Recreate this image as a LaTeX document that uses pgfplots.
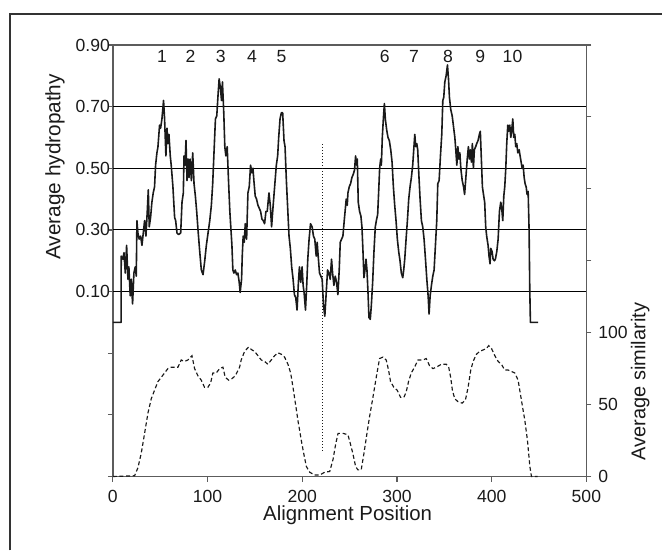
\documentclass[border=0pt]{standalone}
\usepackage{pgfplots}
\usepackage{pgfplotstable}
\pgfplotsset{compat=1.18}
\usepackage{fontspec}
\setmainfont{Liberation Sans}
\definecolor{axisgray}{HTML}{5C5C5C}
\definecolor{ink}{HTML}{1A1A1A}
\tikzset{
  peak/.style={font=\fontsize{8.8}{10}\selectfont, text=ink},
  axlabel/.style={text=ink, inner sep=0pt},
}

% average hydropathy along the alignment
\pgfplotstableread{
x h
0 0
8.7 0
8.8 0.215
10.6 0.205
11.7 0.226
13.1 0.16
14.5 0.25
15.9 0.14
16.9 0.18
18.3 0.086
19.4 0.14
20.8 0.06
22.2 0.16
23.6 0.18
24.7 0.15
25.4 0.33
26.4 0.29
27.8 0.27
29.3 0.28
30.7 0.25
32.1 0.29
33.5 0.33
34.9 0.28
36.3 0.36
37.4 0.43
38.4 0.31
39.8 0.34
41.2 0.39
42.6 0.42
44.0 0.44
45.1 0.51
46.5 0.55
47.6 0.57
49.3 0.64
50.4 0.63
51.8 0.66
53.5 0.72
54.6 0.66
56.0 0.54
57.1 0.63
58.1 0.58
59.2 0.61
60.6 0.54
61.6 0.51
63.4 0.44
65.2 0.34
66.3 0.33
67.7 0.29
69.5 0.285
71.6 0.29
73.0 0.39
74.4 0.42
75.1 0.54
76.2 0.51
77.2 0.59
78.3 0.46
79.4 0.53
80.4 0.47
81.5 0.53
82.9 0.46
84.3 0.55
85.7 0.45
87.1 0.41
88.5 0.36
89.9 0.30
91.7 0.23
93.4 0.17
95.2 0.155
97.0 0.20
98.7 0.25
100.5 0.29
102.3 0.33
104.0 0.38
105.4 0.45
106.9 0.56
108.3 0.66
109.7 0.67
111.1 0.74
112.2 0.79
113.6 0.76
114.7 0.72
115.7 0.78
117.1 0.68
118.2 0.57
119.3 0.54
120.7 0.57
122.1 0.46
123.5 0.36
125.7 0.25
126.7 0.17
127.8 0.16
129.2 0.17
130.6 0.155
132.0 0.16
133.4 0.13
134.4 0.097
135.9 0.14
136.6 0.215
137.6 0.28
138.7 0.26
139.8 0.32
141.2 0.27
142.6 0.42
144.0 0.44
145.4 0.51
146.8 0.485
147.9 0.50
148.9 0.46
150.3 0.41
151.7 0.40
153.2 0.38
154.6 0.37
156.0 0.36
157.4 0.335
158.8 0.33
160.2 0.32
161.6 0.36
163.0 0.36
164.8 0.42
166.2 0.38
167.6 0.31
169.0 0.37
170.8 0.44
172.6 0.51
174.0 0.54
175.1 0.60
176.5 0.66
177.9 0.68
179.3 0.68
180.7 0.59
181.8 0.57
183.2 0.46
184.6 0.37
186.0 0.28
187.4 0.24
188.8 0.18
190.3 0.14
191.7 0.09
193.1 0.08
194.5 0.04
195.9 0.13
197.0 0.18
198.4 0.13
199.8 0.18
200.9 0.12
201.9 0.097
203.4 0.04
204.8 0.13
205.8 0.205
207.2 0.27
208.7 0.32
210.4 0.31
211.8 0.28
213.2 0.27
214.7 0.215
215.7 0.26
216.8 0.215
218.2 0.16
219.6 0.15
221.0 0.14
222.4 0.055
223.8 0.02
225.3 0.097
226.7 0.17
228.1 0.16
229.5 0.14
230.9 0.205
232.0 0.16
233.4 0.12
234.8 0.15
236.2 0.13
237.6 0.09
239.0 0.17
240.1 0.26
241.5 0.27
242.9 0.28
244.3 0.33
246.4 0.40
247.5 0.38
248.2 0.42
249.6 0.44
251.0 0.45
252.4 0.47
253.8 0.48
255.2 0.495
256.3 0.54
257.4 0.51
258.1 0.53
259.1 0.39
260.5 0.36
261.9 0.345
263.0 0.31
264.1 0.23
265.1 0.145
266.2 0.17
267.3 0.205
268.3 0.17
269.4 0.097
270.4 0.016
271.8 0.01
272.9 0.054
274.3 0.13
275.7 0.23
277.1 0.31
278.2 0.33
279.6 0.35
280.6 0.42
281.7 0.50
282.8 0.53
283.5 0.51
284.5 0.60
285.6 0.66
286.7 0.71
287.7 0.66
289.1 0.625
290.5 0.60
291.9 0.59
293.4 0.56
294.8 0.52
296.2 0.44
297.6 0.38
299.0 0.33
300.4 0.27
301.8 0.23
303.2 0.20
304.6 0.16
306.1 0.145
307.1 0.17
308.2 0.205
309.6 0.27
311.0 0.33
312.4 0.40
313.8 0.44
315.2 0.47
316.6 0.51
317.7 0.56
318.8 0.61
319.8 0.57
320.9 0.58
321.9 0.56
323.0 0.485
324.4 0.40
325.8 0.33
327.2 0.31
328.6 0.27
330.1 0.205
331.5 0.14
332.9 0.086
333.9 0.027
335.0 0.086
336.4 0.12
337.8 0.15
339.2 0.17
340.6 0.25
342.0 0.33
343.1 0.45
344.5 0.46
345.9 0.54
347.3 0.61
348.4 0.72
349.4 0.73
350.5 0.78
351.9 0.80
353.3 0.835
354.4 0.79
355.4 0.73
356.8 0.69
358.3 0.67
359.7 0.635
361.1 0.60
362.1 0.56
363.2 0.51
364.3 0.57
365.3 0.53
366.4 0.55
367.4 0.50
368.9 0.46
370.3 0.44
371.4 0.415
373.1 0.485
374.2 0.53
375.4 0.57
376.5 0.53
377.5 0.56
378.6 0.52
379.6 0.58
380.7 0.50
381.7 0.56
383.1 0.57
384.2 0.58
385.6 0.59
387.0 0.61
388.0 0.62
389.1 0.53
390.2 0.44
391.6 0.41
392.6 0.39
393.7 0.31
394.7 0.28
396.2 0.25
397.2 0.215
398.3 0.19
399.0 0.24
400.4 0.23
401.5 0.205
402.9 0.20
403.9 0.205
405.4 0.23
406.8 0.27
408.2 0.36
409.6 0.39
410.6 0.37
411.7 0.33
412.8 0.41
413.8 0.44
414.9 0.50
415.9 0.58
417.0 0.64
418.0 0.62
419.1 0.64
420.2 0.60
421.2 0.625
422.3 0.66
423.3 0.60
424.4 0.61
425.4 0.57
426.5 0.58
427.6 0.55
429.0 0.56
430.0 0.54
431.1 0.52
432.2 0.50
433.2 0.51
434.3 0.47
435.3 0.45
436.4 0.44
437.4 0.415
438.5 0.425
439.5 0.30
440.2 0.11
440.9 0
449 0
}\hydro

% average similarity along the alignment
\pgfplotstableread{
x s
0 0
22.9 0.5
26.4 6
29.9 16
33.5 30
37.0 44
40.5 54
44.0 60
47.6 66
51.1 69
54.6 72
58.1 75
61.6 76
65.2 76
68.7 76
72.2 81
75.7 80
79.2 81
83.5 84
86.3 75
89.8 70
93.3 67
96.8 62
100.3 62
103.2 65
105.6 72
109.2 72
112.7 75
116.2 76
118.6 69
122.2 67
125.7 68
129.2 70
133.8 76
135.5 81
139.1 87
143.3 90
146.8 88
149.6 87
153.2 84
156.7 81
160.2 80
163.7 78
167.2 81
170.8 84
174.3 86
177.8 85
181.3 83
184.9 78
187.7 72
190.2 62
192.7 51
195.4 39
199.0 25
201.8 15
204.3 7
207.8 3
213.1 1
218.4 1
223.7 3
229.0 3.5
232.5 12
235.4 23
237.8 30
243.1 30
248.2 29
250.7 23
253.4 16
256.3 7
258.7 4.6
262.2 4.6
265.1 16
268.3 30
271.0 41.5
274.6 55
278.1 69
281.6 82
285.1 83
288.6 81
291.1 74
293.2 66
296.7 62
300.2 60
303.8 55
307.3 55
309.8 59
312.2 66
315.1 72
318.6 76
322.1 81
327.4 81
330.9 82
334.4 77
338.0 75
341.5 76
346.8 78
352.1 78
354.6 76
356.7 69
358.5 60
361.0 54
364.5 52
368.7 51
372.2 53
375.1 62
377.9 74
380.4 80
383.9 85
387.4 87
391.0 88
394.5 89
396.9 91
399.8 89
403.3 84
406.8 80
410.3 78
413.8 74
417.4 74
420.9 73
424.4 72
427.9 67
431.4 53
435.0 39
437.8 25
440.3 7
442.0 0
448.4 0
}\similarity

\pgfplotsset{
  panel/.style={
    at={(56.5pt,-238.5pt)}, anchor=south west,
    width=237pt, height=216pt, scale only axis,
    xmin=0, xmax=500,
    tick align=outside,
    major tick length=2.5pt,
    axis line style={axisgray, line width=0.85pt},
    every tick/.style={axisgray, line width=0.6pt},
    tick label style={font=\fontsize{8.8}{10}\selectfont, text=ink},
    /pgf/number format/assume math mode=true,
    clip=false,
  },
}

\begin{document}
\begin{tikzpicture}
\path (0,0) rectangle (331.5pt,-275.5pt);
\draw[line width=0.7pt, color=black!80] (5pt,-275.5pt) -- (5pt,-7pt) -- (331.5pt,-7pt);

\begin{axis}[
  panel,
  ymin=-0.5, ymax=0.9,
  xtick={0,100,...,500},
  ytick={-0.5,-0.3,-0.1,0.1,0.3,0.5,0.7,0.9},
  yticklabels={,,,0.10,0.30,0.50,0.70,0.90},
  yticklabel style={xshift=4.5pt},
  xticklabel style={yshift=-1pt},
  xtick pos=lower, ytick pos=left,
  extra y ticks={0.1,0.3,0.5,0.7},
  extra y tick labels={},
  extra y tick style={grid=major, major tick length=0pt},
  major grid style={black, line width=0.55pt},
]
\addplot[ink, line width=0.8pt, line join=round] table[x=x, y=h] {\hydro};
\node[peak] at (axis cs:52,0.864) {1};
\node[peak] at (axis cs:82,0.864) {2};
\node[peak] at (axis cs:114,0.864) {3};
\node[peak] at (axis cs:147,0.864) {4};
\node[peak] at (axis cs:178,0.864) {5};
\node[peak] at (axis cs:287,0.864) {6};
\node[peak] at (axis cs:318,0.864) {7};
\node[peak] at (axis cs:354,0.864) {8};
\node[peak] at (axis cs:388,0.864) {9};
\node[peak] at (axis cs:422,0.864) {10};
\end{axis}

\begin{axis}[
  panel,
  ymin=0, ymax=300,
  hide x axis,
  axis y line*=right,
  ytick={0,50,...,300},
  yticklabels={0,50,100,,,,},
]
\addplot[ink, line width=0.58pt, dash pattern=on 2pt off 1.3pt] table[x=x, y=s] {\similarity};
\addplot[ink, line width=0.5pt, densely dotted] coordinates {(221,18) (221,231)};
\end{axis}

\node[axlabel, rotate=90, font=\fontsize{10.4}{12}\selectfont] at (27.5pt,-83.5pt) {Average hydropathy};
\node[axlabel, rotate=90, font=\fontsize{10}{12}\selectfont] at (320.5pt,-191pt) {Average similarity};
\node[axlabel, font=\fontsize{10.2}{12}\selectfont] at (174pt,-258pt) {Alignment Position};
\end{tikzpicture}
\end{document}
